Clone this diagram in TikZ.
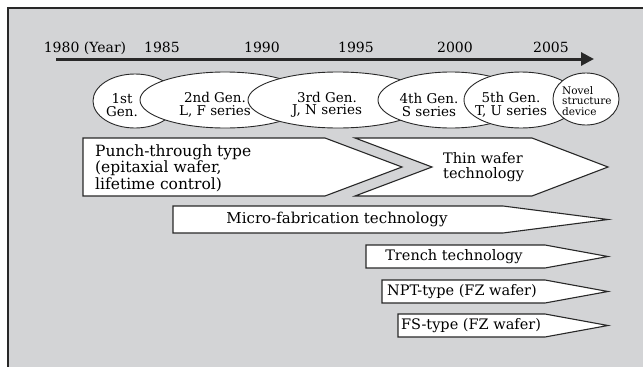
\documentclass[tikz,border=0pt]{standalone}
\usepackage{fontspec}
\setmainfont{DejaVu Serif}
\usetikzlibrary{arrows.meta,shapes.geometric}

\definecolor{panelgray}{RGB}{211,212,214}
\definecolor{inkgray}{RGB}{40,40,40}

\tikzset{
  timeline/.style={line width=3pt, draw=inkgray, -{Triangle[length=13pt,width=13pt]}},
  yearlabel/.style={font=\fontsize{14}{16}\selectfont, inner sep=0pt, anchor=base},
  genell/.style={ellipse, draw=inkgray, fill=white, line width=0.9pt, inner sep=0pt},
  gentext/.style={align=center, font=\fontsize{13.5}{12.5}\selectfont, inner sep=0pt},
  noveltext/.style={align=left, font=\fontsize{10.5}{10.5}\selectfont, inner sep=0pt, anchor=west},
  techbar/.style={draw=inkgray, fill=white, line width=1.1pt, line join=miter},
  techtext/.style={font=\fontsize{14.5}{15}\selectfont, inner sep=0pt},
}

\begin{document}
\begin{tikzpicture}[x=1pt, y=-1pt]
    \useasboundingbox (0,0) rectangle (643,367);
    % Panel
    \fill[panelgray] (8,8) rectangle (643,367);
    \draw[inkgray, line width=1.5pt] (8,367) -- (8,8) -- (643,8);
    % Time axis
    \coordinate (t0) at (56,59);
    \coordinate (t1) at (594,59);
    \draw[timeline] (t0) -- (t1);
    \node[yearlabel] (y1980) at (85,52) {1980 (Year)};
    \node[yearlabel] (y1985) at (162,52) {1985};
    \node[yearlabel] (y1990) at (262,52) {1990};
    \node[yearlabel] (y1995) at (356,52) {1995};
    \node[yearlabel] (y2000) at (455,52) {2000};
    \node[yearlabel] (y2005) at (551,52) {2005};
    % Generations
    \node[genell, minimum width=84pt, minimum height=54pt] (g1) at (135,101) {};
    \node[gentext] (g1t) at (122,105) {1st\\Gen.};
    \node[genell, minimum width=170pt, minimum height=56pt] (g2) at (225,100) {};
    \node[gentext] (g2t) at (215,105) {2nd Gen.\\L, F series};
    \node[genell, minimum width=180pt, minimum height=56pt] (g3) at (338,100) {};
    \node[gentext] (g3t) at (327,105) {3rd Gen.\\J, N series};
    \node[genell, minimum width=146pt, minimum height=56pt] (g4) at (451,100) {};
    \node[gentext] (g4t) at (429,105) {4th Gen.\\S series};
    \node[genell, minimum width=114pt, minimum height=56pt] (g5) at (521,100) {};
    \node[gentext] (g5t) at (511,105) {5th Gen.\\T, U series};
    \node[genell, minimum width=66pt, minimum height=52pt] (g6) at (586,99) {};
    \node[noveltext] (g6t) at (562,101) {Novel\\structure\\device};
    % Technologies
    \draw[techbar] (83,138) -- (325,138) -- (402,167) -- (325,196) -- (83,196) -- cycle;
    \node[techtext, align=left, anchor=west, font=\fontsize{15.5}{16.5}\selectfont] (punch) at (95,168) {Punch-through type\\(epitaxial wafer,\\lifetime control)};
    \draw[techbar] (355,138) -- (532,138) -- (608,167) -- (532,196) -- (355,196) -- (432,167) -- cycle;
    \node[techtext, align=left, anchor=west] (thin) at (443,167) {Thin wafer\\technology};
    \draw[techbar] (173,206) -- (503,206) -- (608,219.5) -- (503,233) -- (173,233) -- cycle;
    \node[techtext, font=\fontsize{15}{15}\selectfont] (micro) at (337,219.5) {Micro-fabrication technology};
    \draw[techbar] (366,245) -- (545,245) -- (608,256.5) -- (545,268) -- (366,268) -- cycle;
    \node[techtext] (trench) at (454,256.5) {Trench technology};
    \draw[techbar] (382,280) -- (545,280) -- (608,291.5) -- (545,303) -- (382,303) -- cycle;
    \node[techtext] (npt) at (462,291.5) {NPT-type (FZ wafer)};
    \draw[techbar] (398,314) -- (545,314) -- (608,325.5) -- (545,337) -- (398,337) -- cycle;
    \node[techtext] (fs) at (471,325.5) {FS-type (FZ wafer)};
\end{tikzpicture}
\end{document}
